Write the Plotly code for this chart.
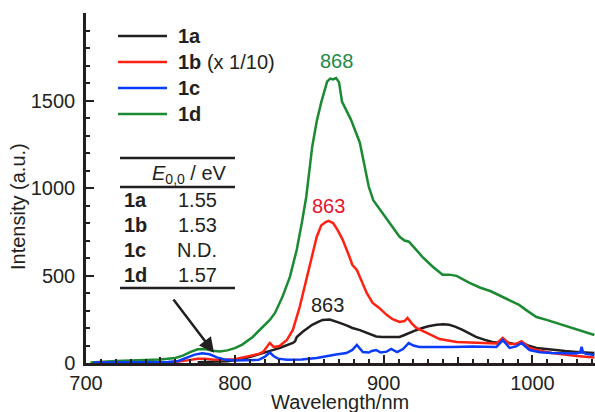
import plotly.graph_objects as go

# ---------------- data ----------------
wl_1a = [775, 785, 795, 805, 810, 815, 821, 826, 830, 835, 839, 840.5, 841.6, 845.6, 852, 856, 859, 863.8,
         867, 870.5, 875, 879, 884, 888.6, 892, 895, 899, 905, 910.7, 914, 917, 921, 926, 930, 935.6, 940,
         944, 948, 953, 958, 962, 968, 973, 978, 980, 984.6, 988, 993, 997, 1002.7, 1008, 1016, 1022,
         1029.5, 1036, 1041.6]
int_1a = [5, 8, 10, 22, 34, 45, 63, 75, 86, 100, 115, 125, 149, 178, 218, 235, 246, 248,
          240, 229, 215, 200, 188, 172, 160, 152, 149, 147, 149, 160, 172, 185, 200, 210, 218, 222,
          218, 208, 189, 168, 149, 132, 120, 115, 128, 114, 108, 118, 100, 86, 80, 74, 68,
          63, 60, 57]

wl_1b = [705, 720, 740, 760, 768, 775, 780, 785, 792, 800, 810, 816, 819, 823.5, 826, 830, 835, 839,
         843.6, 848, 852, 855, 858, 861, 863, 866, 869, 872.5, 877, 879, 882, 884, 888.6, 892.6, 897,
         902, 906, 910.7, 914, 916, 919, 922, 928.8, 937.6, 949, 964, 975.8, 980, 984.6, 989, 992.6,
         998, 1005, 1013, 1020, 1029.5, 1041.6]
int_1b = [2, 3, 4, 6, 15, 24, 25, 20, 18, 22, 40, 52, 63, 115, 92, 97, 132, 189,
          321, 475, 630, 720, 785, 805, 812, 800, 761, 704, 607, 560, 532, 492, 400, 343, 315,
          275, 250, 235, 240, 258, 225, 200, 172, 137, 120, 114, 112, 143, 109, 110, 125,
          86, 70, 57, 48, 40, 32]

wl_1c = [705, 720, 740, 755, 762, 768, 773, 778, 783, 788, 793, 800, 810, 816, 820, 823.5, 826, 829,
         835, 845, 855, 862, 868, 875, 879, 882, 884, 886, 890, 892, 895, 898, 902, 905, 909, 913,
         916.8, 920, 924, 935, 946, 960, 975.8, 980, 984.6, 989, 992.6, 998, 1005, 1013, 1020, 1029.5,
         1032, 1033, 1034, 1036, 1041.6]
int_1c = [3, 4, 5, 6, 12, 30, 48, 55, 50, 32, 20, 14, 14, 18, 35, 60, 40, 25,
          18, 20, 28, 40, 48, 57, 75, 103, 85, 63, 60, 69, 74, 60, 65, 80, 62, 80,
          114, 100, 92, 94, 92, 94, 92, 132, 86, 95, 114, 74, 62, 57, 55, 55,
          60, 92, 60, 52, 46]

wl_1d = [703, 710, 720, 730, 740, 750, 760, 765, 770, 775, 780, 785, 790, 795, 800, 805, 812, 819,
         823.5, 827, 832, 837, 841.6, 845, 848, 852, 855, 858, 862, 864, 866, 868, 870, 872, 875, 878,
         884, 887, 890, 893, 899, 905, 910.7, 914, 917, 921, 926, 933, 939.6, 944, 949, 957.7, 965,
         972, 980, 985, 991, 997, 1002.7, 1010, 1016, 1023, 1029.5, 1036, 1041.6]
int_1d = [3, 8, 12, 14, 16, 20, 29, 42, 62, 78, 80, 70, 66, 72, 85, 105, 149, 206,
          246, 286, 378, 492, 647, 800, 950, 1236, 1380, 1488, 1608, 1625, 1620, 1628, 1605, 1494, 1440, 1391,
          1259, 1140, 1007, 930, 858, 790, 721, 700, 693, 655, 607, 550, 504, 505, 498, 458, 430,
          410, 378, 360, 332, 295, 263, 245, 229, 210, 189, 172, 160]

series_names = ["1a", "1b", "1c", "1d"]
legend_labels = ["<b>1a</b>", "<b>1b</b> (x 1/10)", "<b>1c</b>", "<b>1d</b>"]
series_colors = ["#231f20", "#ff2212", "#0a3cff", "#1b8a33"]

peak_wl = [868, 863, 862]
peak_int = [1723, 899, 332]
peak_text = ["868", "863", "863"]
peak_colors = ["#1e8a48", "#e8142e", "#231f20"]

table_rows = ["1a", "1b", "1c", "1d"]
table_vals = ["1.55", "1.53", "N.D.", "1.57"]

x_ticks = [700, 800, 900, 1000]
y_ticks = [0, 500, 1000, 1500]

# ---------------- figure ----------------
W, H = 595, 412
L, R, T, B = 86, 0, 13, 49
PW, PH = W - L - R, H - T - B
FONT = "Liberation Sans, Arial, Helvetica, sans-serif"
FS = 20
INK = "#231f20"


def px(xp):
    return (xp - L) / PW


def py(yp):
    return (H - B - yp) / PH


fig = go.Figure()
xs = [wl_1a, wl_1b, wl_1c, wl_1d]
ys = [int_1a, int_1b, int_1c, int_1d]
order = [3, 0, 1, 2]
for i in order:
    fig.add_trace(go.Scatter(x=xs[i], y=ys[i], mode="lines", name=series_names[i],
                             line=dict(color=series_colors[i], width=2.5),
                             showlegend=False))

# invisible trace on xaxis2 for the mid ticks (every 50 nm)
fig.add_trace(go.Scatter(x=[700, 1042], y=[None, None], xaxis="x2", yaxis="y",
                         showlegend=False, hoverinfo="skip"))

shapes = []
annotations = []

# legend (manual)
leg_y = [36, 62, 88, 114]
for lab, col, yy in zip(legend_labels, series_colors, leg_y):
    shapes.append(dict(type="line", xref="paper", yref="paper", x0=px(118), x1=px(167),
                       y0=py(yy), y1=py(yy), line=dict(color=col, width=2.5)))
    annotations.append(dict(xref="paper", yref="paper", x=px(176), y=py(yy), text=lab,
                            showarrow=False, xanchor="left", yanchor="middle",
                            font=dict(family=FONT, size=FS, color=INK)))

# table
for yy in [158, 187, 288]:
    shapes.append(dict(type="line", xref="paper", yref="paper", x0=px(120), x1=px(235),
                       y0=py(yy), y1=py(yy), line=dict(color=INK, width=2.5)))
annotations.append(dict(xref="paper", yref="paper", x=px(229), y=py(174),
                        text="<i>E</i><sub>0,0</sub> / eV", showarrow=False,
                        xanchor="right", yanchor="middle",
                        font=dict(family=FONT, size=FS, color=INK)))
row_y = [200, 225, 250, 275]
for r, v, yy in zip(table_rows, table_vals, row_y):
    annotations.append(dict(xref="paper", yref="paper", x=px(122), y=py(yy), text="<b>%s</b>" % r,
                            showarrow=False, xanchor="left", yanchor="middle",
                            font=dict(family=FONT, size=FS, color=INK)))
    annotations.append(dict(xref="paper", yref="paper", x=px(197), y=py(yy), text=v,
                            showarrow=False, xanchor="center", yanchor="middle",
                            font=dict(family=FONT, size=FS, color=INK)))

# peak labels
for xw, yi, t, c in zip(peak_wl, peak_int, peak_text, peak_colors):
    annotations.append(dict(x=xw, y=yi, xref="x", yref="y", text=t, showarrow=False,
                            xanchor="center", yanchor="middle",
                            font=dict(family=FONT, size=FS, color=c)))

# arrow
annotations.append(dict(x=786, y=58, ax=758, ay=372, xref="x", yref="y", axref="x", ayref="y",
                        text="", showarrow=True, arrowhead=2, arrowsize=1.2, arrowwidth=2.5,
                        arrowcolor=INK))

# axis titles
annotations.append(dict(xref="paper", yref="paper", x=px(340), y=py(402.5), text="Wavelength/nm",
                        showarrow=False, xanchor="center", yanchor="middle",
                        font=dict(family=FONT, size=FS, color=INK)))
annotations.append(dict(xref="paper", yref="paper", x=px(18), y=py(207), text="Intensity (a.u.)",
                        showarrow=False, xanchor="center", yanchor="middle", textangle=-90,
                        font=dict(family=FONT, size=FS, color=INK)))

fig.update_layout(
    width=W, height=H,
    margin=dict(l=L, r=R, t=T, b=B, pad=0),
    paper_bgcolor="white", plot_bgcolor="white",
    font=dict(family=FONT, size=FS, color=INK),
    showlegend=False,
    xaxis=dict(range=[700, 1042], showgrid=False, zeroline=False, showline=True,
               linecolor=INK, linewidth=2.5, ticks="inside", ticklen=8, tickwidth=2,
               tickcolor=INK, tickvals=x_ticks, ticktext=[str(v) for v in x_ticks],
               tickfont=dict(family=FONT, size=FS, color=INK), automargin=False,
               minor=dict(dtick=10, tick0=700, ticks="inside", ticklen=4, tickwidth=1.5,
                          tickcolor=INK, showgrid=False)),
    xaxis2=dict(range=[700, 1042], overlaying="x", matches="x", side="bottom", anchor="y",
                showgrid=False, zeroline=False, showline=False, showticklabels=False,
                ticks="inside", ticklen=6, tickwidth=1.5, tickcolor=INK, dtick=50, tick0=700),
    yaxis=dict(range=[0, 2000], showgrid=False, zeroline=False, showline=True,
               linecolor=INK, linewidth=2.5, ticks="inside", ticklen=8, tickwidth=2,
               tickcolor=INK, tickvals=y_ticks, ticktext=[str(v) for v in y_ticks],
               tickfont=dict(family=FONT, size=FS, color=INK), ticklabelstandoff=4,
               automargin=False,
               minor=dict(dtick=100, tick0=0, ticks="inside", ticklen=4, tickwidth=1.5,
                          tickcolor=INK, showgrid=False)),
    shapes=shapes,
    annotations=annotations,
)

fig.write_html("out.html", config={"displayModeBar": False},
               post_script="document.body.style.margin='0px';document.body.style.padding='0px';")
